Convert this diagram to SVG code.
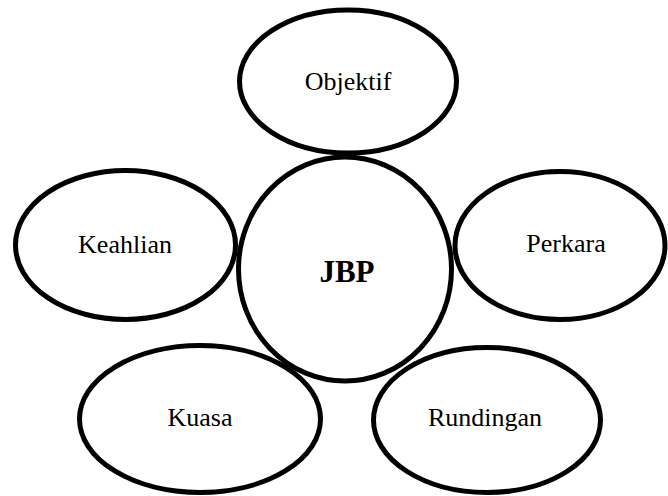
<svg xmlns="http://www.w3.org/2000/svg" width="668" height="496" viewBox="0 0 668 496">
  <style>
    .bubble { fill: none; stroke: #000; stroke-width: 5; }
    text { font-family: 'Liberation Serif', 'DejaVu Serif', serif; font-size: 26px; fill: #000; text-anchor: middle; }
    .core { font-size: 31px; font-weight: bold; }
  </style>
  <rect width="668" height="496" fill="#fff"/>
  <!-- central concept -->
  <g id="jbp">
    <ellipse class="bubble" cx="345" cy="269" rx="106.5" ry="112"/>
    <text class="core" x="347" y="282" font-family="Liberation Serif, serif">JBP</text>
  </g>
  <!-- surrounding aspects -->
  <g id="objektif">
    <ellipse class="bubble" cx="348" cy="81.5" rx="108.5" ry="71.5"/>
    <text x="348" y="90" font-family="Liberation Serif, serif">Objektif</text>
  </g>
  <g id="keahlian">
    <ellipse class="bubble" cx="125.5" cy="245" rx="110" ry="74.5"/>
    <text x="125" y="253" font-family="Liberation Serif, serif">Keahlian</text>
  </g>
  <g id="perkara">
    <ellipse class="bubble" cx="560" cy="245.5" rx="105" ry="74"/>
    <text x="566" y="252" font-family="Liberation Serif, serif">Perkara</text>
  </g>
  <g id="kuasa">
    <ellipse class="bubble" cx="200" cy="419" rx="120.5" ry="73.5"/>
    <text x="200" y="426" font-family="Liberation Serif, serif">Kuasa</text>
  </g>
  <g id="rundingan">
    <ellipse class="bubble" cx="487" cy="420" rx="113.5" ry="72.5"/>
    <text x="485" y="426" font-family="Liberation Serif, serif">Rundingan</text>
  </g>
</svg>
